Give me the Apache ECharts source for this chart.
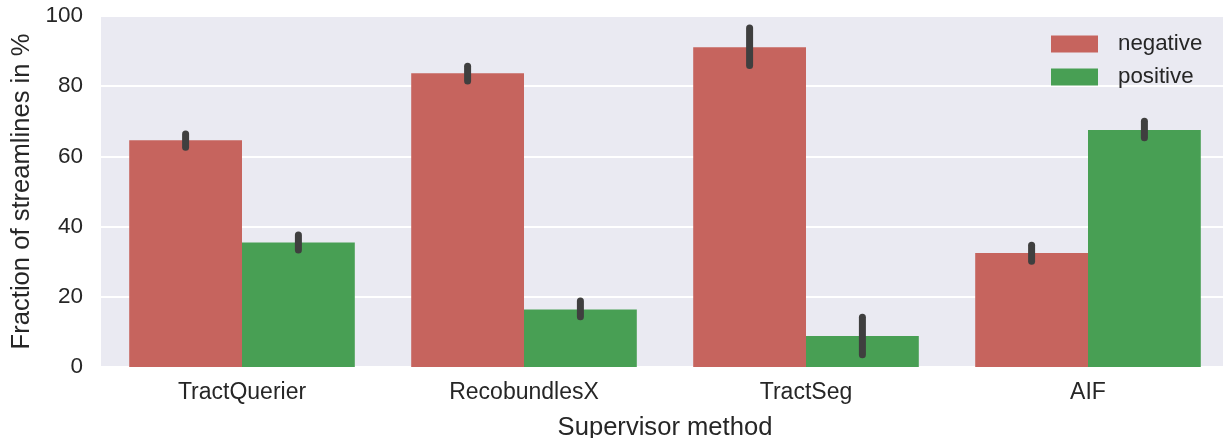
<!DOCTYPE html>
<html>
<head>
<meta charset="utf-8">
<script src="https://cdn.jsdelivr.net/npm/echarts@6/dist/echarts.min.js"></script>
<style>html,body{margin:0;padding:0;background:#fff;}#c{width:1223px;height:438px;}</style>
</head>
<body>
<div id="c"></div>
<script>
const categories = ['TractQuerier', 'RecobundlesX', 'TractSeg', 'AIF'];
const negative = [64.6, 83.7, 91.1, 32.5];
const positive = [35.5, 16.4, 8.8, 67.5];
const negativeLow = [62.6, 81.5, 85.9, 30.1];
const negativeHigh = [66.4, 85.7, 96.6, 34.7];
const positiveLow = [33.3, 14.3, 3.5, 65.3];
const positiveHigh = [37.6, 18.8, 14.2, 70.0];
const yTicks = [0, 20, 40, 60, 80, 100];

const chart = echarts.init(document.getElementById('c'), null, {renderer: 'canvas'});
const font = 'Liberation Sans, Arial, sans-serif';

function errSeries(low, high, offset) {
  return {
    type: 'custom',
    z: 10,
    silent: true,
    data: low.map((l, i) => [i, l, high[i]]),
    encode: {x: 0, y: [1, 2]},
    renderItem: function (params, api) {
      const band = api.size([1, 0])[0];
      const p1 = api.coord([api.value(0), api.value(1)]);
      const p2 = api.coord([api.value(0), api.value(2)]);
      const x = p1[0] + offset * band;
      return {
        type: 'line',
        shape: {x1: x, y1: p1[1], x2: x, y2: p2[1]},
        style: {stroke: '#3f3f3f', lineWidth: 7, lineCap: 'round'}
      };
    }
  };
}

chart.setOption({
  animation: false,
  backgroundColor: '#ffffff',
  grid: {left: 101, right: -6, top: 16, bottom: 71, backgroundColor: '#EAEAF2', show: true, borderWidth: 0,
    containLabel: false, outerBoundsMode: 'none'},
  legend: {
    orient: 'vertical',
    left: 1046,
    top: 28,
    padding: 5,
    itemWidth: 47,
    itemHeight: 17,
    itemGap: 11,
    icon: 'rect',
    textStyle: {fontFamily: font, fontSize: 22.3, lineHeight: 17, color: '#262626', padding: [0, 0, 0, 15]},
    data: ['negative', 'positive']
  },
  xAxis: {
    type: 'category',
    data: categories,
    axisLine: {show: false},
    axisTick: {show: false},
    axisLabel: {fontFamily: font, fontSize: 23, color: '#262626', margin: 14},
    name: 'Supervisor method',
    nameLocation: 'middle',
    nameGap: 48,
    nameTextStyle: {fontFamily: font, fontSize: 25.6, color: '#262626'}
  },
  yAxis: {
    type: 'value',
    min: 0,
    max: 100,
    interval: 20,
    axisLine: {show: false},
    axisTick: {show: false},
    splitLine: {lineStyle: {color: '#ffffff', width: 2}},
    axisLabel: {fontFamily: font, fontSize: 22.5, color: '#262626', margin: 18,
      formatter: v => yTicks.includes(v) ? String(v) : ''},
    name: 'Fraction of streamlines in %',
    nameLocation: 'middle',
    nameGap: 66,
    nameTextStyle: {fontFamily: font, fontSize: 25.6, color: '#262626'}
  },
  series: [
    {name: 'negative', type: 'bar', data: negative, barGap: '0%', barCategoryGap: '20%',
      itemStyle: {color: '#C6645E'}},
    {name: 'positive', type: 'bar', data: positive, barGap: '0%', barCategoryGap: '20%',
      itemStyle: {color: '#489F54'}},
    errSeries(negativeLow, negativeHigh, -0.2),
    errSeries(positiveLow, positiveHigh, 0.2)
  ]
});
</script>
</body>
</html>
